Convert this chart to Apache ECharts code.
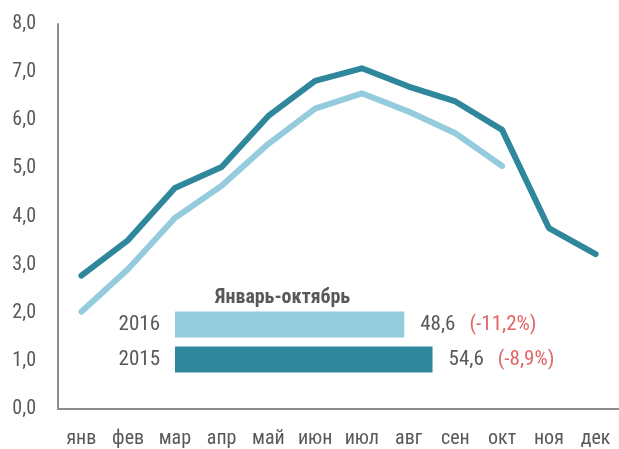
<!DOCTYPE html>
<html>
<head>
<meta charset="utf-8">
<script src="https://cdn.jsdelivr.net/npm/echarts@6/dist/echarts.min.js"></script>
<style>
  html, body { margin: 0; padding: 0; background: #fff; }
  #chart { width: 619px; height: 449px; }
</style>
</head>
<body>
<div id="chart"></div>
<script>
var months = ['янв', 'фев', 'мар', 'апр', 'май', 'июн', 'июл', 'авг', 'сен', 'окт', 'ноя', 'дек'];
var values2015 = [2.77, 3.51, 4.59, 5.03, 6.09, 6.82, 7.08, 6.70, 6.39, 5.80, 3.76, 3.22];
var values2016 = [2.02, 2.91, 3.97, 4.64, 5.51, 6.24, 6.56, 6.18, 5.73, 5.05];
var years = ['2016', '2015'];
var totals = [48.6, 54.6];
var changes = ['(-11,2%)', '(-8,9%)'];

var font = '"Liberation Sans Narrow", "Roboto Condensed", "DejaVu Sans Condensed", sans-serif';
var dark = '#2f879c';
var light = '#94cbdd';
var grey = '#595959';

var chart = echarts.init(document.getElementById('chart'));

var option = {
  animation: false,
  textStyle: { fontFamily: font },
  title: {
    text: 'Январь-октябрь',
    left: 210,
    top: 283,
    textStyle: { fontFamily: font, fontSize: 20, fontWeight: 'bold', color: grey }
  },
  grid: [
    { left: 58, top: 24, width: 564, height: 385 },
    { left: 175, top: 307, width: 283, height: 70 }
  ],
  xAxis: [
    {
      gridIndex: 0,
      type: 'category',
      data: months,
      boundaryGap: true,
      axisLine: { lineStyle: { color: '#8c8c8c', width: 2 } },
      axisTick: { show: false },
      axisLabel: { color: grey, fontSize: 20, margin: 20, fontFamily: font }
    },
    {
      gridIndex: 1,
      type: 'value',
      min: 0,
      max: 60,
      show: false
    }
  ],
  yAxis: [
    {
      gridIndex: 0,
      type: 'value',
      min: 0,
      max: 8,
      interval: 1,
      splitLine: { show: false },
      axisLine: { show: true, lineStyle: { color: '#8c8c8c', width: 2 } },
      axisTick: { show: false },
      axisLabel: {
        color: grey,
        fontSize: 20,
        margin: 22,
        fontFamily: font,
        formatter: function (v) { return v.toFixed(1).replace('.', ','); }
      }
    },
    {
      gridIndex: 1,
      type: 'category',
      data: years,
      inverse: true,
      axisLine: { show: false },
      axisTick: { show: false },
      axisLabel: { color: grey, fontSize: 21, margin: 15, fontFamily: font }
    }
  ],
  series: [
    {
      name: '2015',
      type: 'line',
      xAxisIndex: 0,
      yAxisIndex: 0,
      data: values2015,
      symbol: 'none',
      lineStyle: { color: dark, width: 6, cap: 'round', join: 'round' }
    },
    {
      name: '2016',
      type: 'line',
      xAxisIndex: 0,
      yAxisIndex: 0,
      data: values2016,
      symbol: 'none',
      lineStyle: { color: light, width: 6, cap: 'round', join: 'round' }
    },
    {
      type: 'bar',
      xAxisIndex: 1,
      yAxisIndex: 1,
      barWidth: 26,
      data: totals.map(function (v, i) {
        return { value: v, itemStyle: { color: i === 0 ? light : dark } };
      }),
      label: {
        show: true,
        position: 'right',
        distance: 16,
        formatter: function (p) {
          return String(p.value).replace('.', ',') + '{r|' + changes[p.dataIndex] + '}';
        },
        color: grey,
        fontSize: 21,
        fontFamily: font,
        rich: {
          r: { color: '#e06666', fontSize: 21, fontFamily: font, padding: [0, 0, 0, 14] }
        }
      }
    }
  ]
};

chart.setOption(option);
window.onresize = function () { chart.resize(); };
</script>
</body>
</html>
